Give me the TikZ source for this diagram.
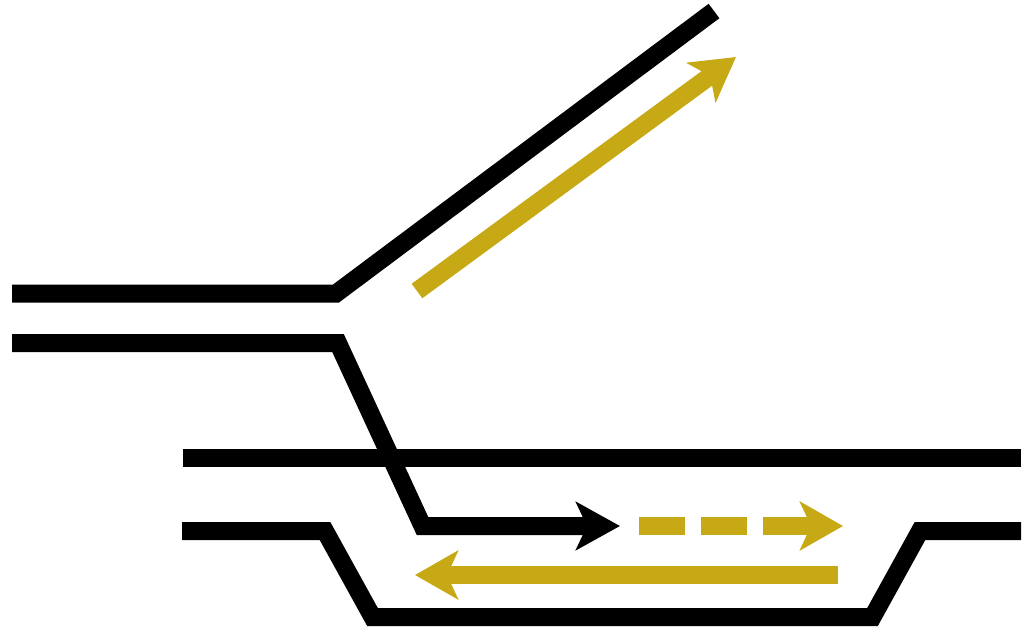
\documentclass[tikz,border=0pt]{standalone}
\usetikzlibrary{arrows.meta}
\definecolor{gold}{HTML}{C7A916}
\tikzset{
  track/.style={line width=18pt,line cap=butt,line join=miter,miter limit=10},
  blacktrack/.style={track,draw=black},
  goldtrack/.style={track,draw=gold},
  headblack/.style={-{Stealth[length=44pt,width=48pt,inset=11pt,fill=black]}},
  headgold/.style={-{Stealth[length=43pt,width=48.5pt,inset=11pt,fill=gold]}}
}
\begin{document}
\begin{tikzpicture}[x=1pt,y=-1pt]
\useasboundingbox (0,0) rectangle (1025,627);
% upper branch
\coordinate (a0) at (12,293.5);
\coordinate (a1) at (336,293.5);
\coordinate (a2) at (714,11);
\draw[blacktrack] (a0) -- (a1) -- (a2);
% gold diagonal
\coordinate (g0) at (417,291);
\coordinate (g1) at (736,57);
\draw[goldtrack,headgold] (g0) -- (g1);
% crossing track
\coordinate (c0) at (183,458);
\coordinate (c1) at (1021,458);
\draw[blacktrack] (c0) -- (c1);
% lower branch with black arrow
\coordinate (b0) at (12,343);
\coordinate (b1) at (338,343);
\coordinate (b2) at (422.5,526);
\coordinate (b3) at (620,526);
\draw[blacktrack,headblack] (b0) -- (b1) -- (b2) -- (b3);
% dashed gold arrow
\coordinate (d0) at (639,526);
\coordinate (d1) at (843,526);
\draw[goldtrack,headgold,dash pattern=on 46pt off 16pt on 46pt off 16pt on 70pt off 20pt] (d0) -- (d1);
% gold return arrow
\coordinate (r0) at (838,575);
\coordinate (r1) at (415,575);
\draw[goldtrack,headgold] (r0) -- (r1);
% siding
\coordinate (s0) at (182,531);
\coordinate (s1) at (325,531);
\coordinate (s2) at (372.5,617);
\coordinate (s3) at (872.5,617);
\coordinate (s4) at (920,531);
\coordinate (s5) at (1021,531);
\draw[blacktrack] (s0) -- (s1) -- (s2) -- (s3) -- (s4) -- (s5);
\end{tikzpicture}
\end{document}
